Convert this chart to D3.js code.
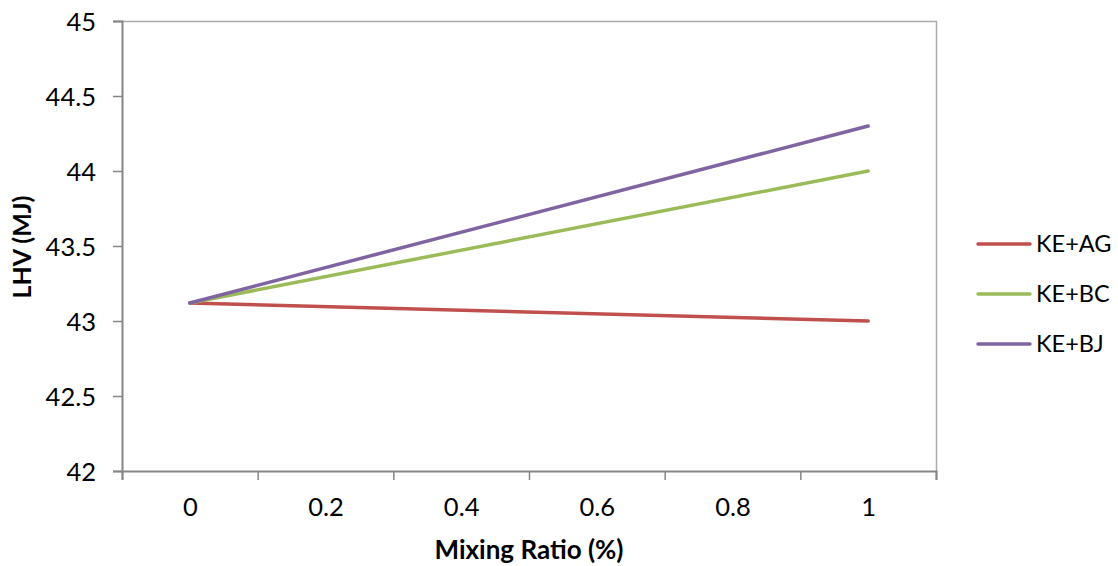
<!DOCTYPE html>
<html>
<head>
<meta charset="utf-8">
<script src="https://cdn.jsdelivr.net/npm/d3@7"></script>
<style>
  html, body { margin: 0; padding: 0; background: #fff; }
  svg { display: block; }
  text { font-family: Lato, "Open Sans", "Liberation Sans", sans-serif; fill: #000; }
</style>
</head>
<body>
<svg id="chart" width="1118" height="566"></svg>
<script>
const mixingRatio = [0, 1];
const seriesNames = ["KE+AG", "KE+BC", "KE+BJ"];
const seriesColors = ["#C0504D", "#9BBB59", "#8064A2"];
const keAG = [43.12, 43.0];
const keBC = [43.12, 44.0];
const keBJ = [43.12, 44.3];
const xTickLabels = [0, 0.2, 0.4, 0.6, 0.8, 1];
const xTickMarks = [-0.1, 0.1, 0.3, 0.5, 0.7, 0.9, 1.1];
const yTicks = [42, 42.5, 43, 43.5, 44, 44.5, 45];

const seriesValues = [keAG, keBC, keBJ];
const svg = d3.select("#chart");
const m = { left: 122, right: 936, top: 21, bottom: 471 };

const x = d3.scaleLinear().domain([-0.1, 1.1]).range([m.left, m.right]);
const y = d3.scaleLinear().domain([42, 45]).range([m.bottom, m.top]);

// plot border (top/right)
svg.append("path")
  .attr("d", `M${m.left},${m.top + 0.5}H${m.right + 0.5}V${m.bottom}`)
  .attr("fill", "none").attr("stroke", "#ababab").attr("stroke-width", 1.5);

// y axis
const yAxis = svg.append("g").attr("transform", `translate(${m.left},0)`)
  .call(d3.axisLeft(y).tickValues(yTicks).tickSize(9).tickPadding(17)
    .tickFormat(d => d3.format("")(d)));
yAxis.select(".domain").attr("stroke", "#868686").attr("stroke-width", 2);
yAxis.selectAll(".tick line").attr("stroke", "#868686").attr("stroke-width", 1.5);
yAxis.selectAll(".tick text").style("font-size", "25.5px").attr("dy", "0.36em");

// x axis: tick marks between categories
const xAxisMarks = svg.append("g").attr("transform", `translate(0,${m.bottom})`)
  .call(d3.axisBottom(x).tickValues(xTickMarks).tickSize(9).tickFormat(""));
xAxisMarks.select(".domain").attr("stroke", "#868686").attr("stroke-width", 2);
xAxisMarks.selectAll(".tick line").attr("stroke", "#868686").attr("stroke-width", 1.5);

const xAxisLabels = svg.append("g").attr("transform", `translate(0,${m.bottom})`)
  .call(d3.axisBottom(x).tickValues(xTickLabels).tickSize(0).tickPadding(27)
    .tickFormat(d => d3.format("")(d)));
xAxisLabels.select(".domain").remove();
xAxisLabels.selectAll(".tick text").style("font-size", "25.5px");

// lines
const line = d3.line().x((d, i) => x(mixingRatio[i])).y(d => y(d));
seriesValues.forEach((vals, i) => {
  svg.append("path").datum(vals)
    .attr("d", line)
    .attr("fill", "none")
    .attr("stroke", seriesColors[i])
    .attr("stroke-width", 3.5)
    .attr("stroke-linecap", "round");
});

// axis titles
svg.append("text")
  .attr("x", 529).attr("y", 559)
  .attr("text-anchor", "middle")
  .style("font-size", "26px").style("font-weight", "bold")
  .text("Mixing Ratio (%)");

svg.append("text")
  .attr("transform", "translate(31,247) rotate(-90)")
  .attr("text-anchor", "middle")
  .style("font-size", "25px").style("font-weight", "bold")
  .text("LHV (MJ)");

// legend
const legend = svg.append("g");
seriesNames.forEach((name, i) => {
  const ly = 244 + i * 50;
  legend.append("line")
    .attr("x1", 978).attr("x2", 1030).attr("y1", ly).attr("y2", ly)
    .attr("stroke", seriesColors[i]).attr("stroke-width", 3.5)
    .attr("stroke-linecap", "round");
  legend.append("text")
    .attr("x", 1036).attr("y", ly).attr("dy", "0.36em")
    .style("font-size", "23.5px")
    .text(name);
});
</script>
</body>
</html>
